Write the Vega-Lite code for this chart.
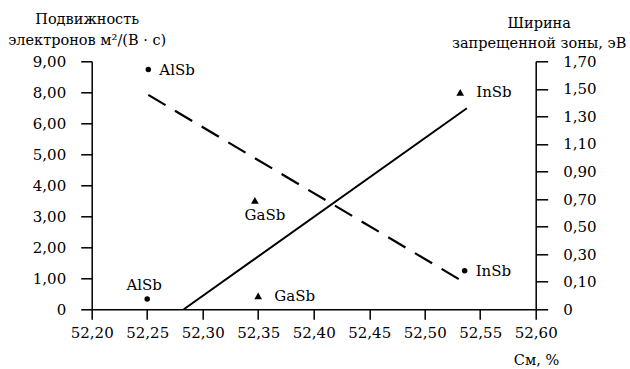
{
  "$schema": "https://vega.github.io/schema/vega-lite/v6.json",
  "width": 444,
  "height": 248,
  "autosize": {"type": "none"},
  "padding": {"left": 91.7, "top": 61.3, "right": 94.3, "bottom": 59.7},
  "background": "white",
  "config": {
    "view": {"stroke": null},
    "font": "DejaVu Serif",
    "axis": {
      "grid": false,
      "domainColor": "black",
      "domainWidth": 1.5,
      "tickColor": "black",
      "tickWidth": 1.5,
      "labelFont": "DejaVu Serif",
      "labelFontSize": 15,
      "labelColor": "black",
      "labelFlush": false,
      "labelOverlap": false,
      "titleFont": "DejaVu Serif",
      "titleFontSize": 14.5,
      "titleFontWeight": "normal",
      "titleColor": "black"
    },
    "text": {"font": "DejaVu Serif", "fontSize": 15, "color": "black"}
  },
  "datasets": {
    "points": [
      {"compound": "AlSb", "quantity": "mobility", "c": 52.25, "value": 0.33},
      {"compound": "GaSb", "quantity": "mobility", "c": 52.35, "value": 0.43},
      {"compound": "InSb", "quantity": "mobility", "c": 52.532, "value": 8.0},
      {"compound": "AlSb", "quantity": "bandgap", "c": 52.251, "value": 1.64},
      {"compound": "GaSb", "quantity": "bandgap", "c": 52.347, "value": 0.69},
      {"compound": "InSb", "quantity": "bandgap", "c": 52.536, "value": 0.18}
    ],
    "lines": [
      {"quantity": "mobility", "c": 52.283, "value": 0},
      {"quantity": "mobility", "c": 52.538, "value": 6.97},
      {"quantity": "bandgap", "c": 52.251, "value": 1.456},
      {"quantity": "bandgap", "c": 52.533, "value": 0.108}
    ]
  },
  "encoding": {
    "x": {
      "field": "c",
      "type": "quantitative",
      "scale": {"domain": [52.2, 52.6], "nice": false, "zero": false},
      "axis": {
        "values": [52.2, 52.25, 52.3, 52.35, 52.4, 52.45, 52.5, 52.55, 52.6],
        "labelExpr": "replace(format(datum.value, '.2f'), '.', ',')",
        "tickSize": 10,
        "labelPadding": 6,
        "title": "См, %",
        "titleX": 467,
        "titleY": 55,
        "titleAnchor": "end",
        "titleAlign": "right",
        "titleBaseline": "alphabetic",
        "titleAngle": 0
      }
    }
  },
  "layer": [
    {
      "encoding": {
        "y": {
          "field": "value",
          "type": "quantitative",
          "scale": {"domain": [0, 6, 8, 9], "range": [248, 62, 31, 0], "nice": false, "zero": false},
          "axis": {
            "orient": "left",
            "values": [0, 1, 2, 3, 4, 5, 6, 8, 9],
            "labelExpr": "datum.value == 0 ? '0' : replace(format(datum.value, '.2f'), '.', ',')",
            "tickSize": 11,
            "labelPadding": 15,
            "title": ["Подвижность", "электронов м²/(В · с)"],
            "titleAngle": 0,
            "titleAlign": "center",
            "titleBaseline": "alphabetic",
            "titleX": -5,
            "titleY": -38,
            "titleLineHeight": 21.5
          }
        }
      },
      "layer": [
        {
          "data": {"name": "lines"},
          "transform": [{"filter": "datum.quantity == 'mobility'"}],
          "mark": {"type": "line", "color": "black", "strokeWidth": 2},
          "encoding": {}
        },
        {
          "data": {"name": "points"},
          "transform": [{"filter": "datum.quantity == 'mobility' && datum.compound == 'AlSb'"}],
          "mark": {"type": "point", "shape": "circle", "filled": true, "color": "black", "size": 30, "opacity": 1}
        },
        {
          "data": {"name": "points"},
          "transform": [{"filter": "datum.quantity == 'mobility' && datum.compound != 'AlSb'"}],
          "mark": {"type": "point", "shape": "triangle-up", "filled": true, "color": "black", "size": 60, "opacity": 1}
        },
        {
          "data": {"name": "points"},
          "transform": [{"filter": "datum.quantity == 'mobility' && datum.compound != 'AlSb'"}],
          "mark": {"type": "text", "align": "left", "baseline": "middle", "dx": 16},
          "encoding": {"text": {"field": "compound"}}
        },
        {
          "data": {"name": "points"},
          "transform": [{"filter": "datum.quantity == 'mobility' && datum.compound == 'AlSb'"}],
          "mark": {"type": "text", "align": "center", "baseline": "middle", "dx": -3, "dy": -14},
          "encoding": {"text": {"field": "compound"}}
        }
      ]
    },
    {
      "encoding": {
        "y": {
          "field": "value",
          "type": "quantitative",
          "scale": {"domain": [0, 0.1, 1.7], "range": [248, 220.44, 0], "nice": false, "zero": false},
          "axis": {
            "orient": "right",
            "values": [0, 0.1, 0.3, 0.5, 0.7, 0.9, 1.1, 1.3, 1.5, 1.7],
            "labelExpr": "datum.value == 0 ? '0' : replace(format(datum.value, '.2f'), '.', ',')",
            "tickSize": 12,
            "labelPadding": 15,
            "title": ["Ширина", "запрещенной зоны, эВ"],
            "titleAngle": 0,
            "titleAlign": "center",
            "titleBaseline": "alphabetic",
            "titleX": 3,
            "titleY": -34,
            "titleLineHeight": 20
          }
        }
      },
      "layer": [
        {
          "data": {"name": "lines"},
          "transform": [{"filter": "datum.quantity == 'bandgap'"}],
          "mark": {"type": "line", "color": "black", "strokeWidth": 2.2, "strokeDash": [20, 11]},
          "encoding": {}
        },
        {
          "data": {"name": "points"},
          "transform": [{"filter": "datum.quantity == 'bandgap' && datum.compound != 'GaSb'"}],
          "mark": {"type": "point", "shape": "circle", "filled": true, "color": "black", "size": 30, "opacity": 1}
        },
        {
          "data": {"name": "points"},
          "transform": [{"filter": "datum.quantity == 'bandgap' && datum.compound == 'GaSb'"}],
          "mark": {"type": "point", "shape": "triangle-up", "filled": true, "color": "black", "size": 60, "opacity": 1}
        },
        {
          "data": {"name": "points"},
          "transform": [{"filter": "datum.quantity == 'bandgap' && datum.compound != 'GaSb'"}],
          "mark": {"type": "text", "align": "left", "baseline": "middle", "dx": 11},
          "encoding": {"text": {"field": "compound"}}
        },
        {
          "data": {"name": "points"},
          "transform": [{"filter": "datum.quantity == 'bandgap' && datum.compound == 'GaSb'"}],
          "mark": {"type": "text", "align": "center", "baseline": "middle", "dx": 10, "dy": 15},
          "encoding": {"text": {"field": "compound"}}
        }
      ]
    }
  ],
  "resolve": {"scale": {"y": "independent"}}
}
